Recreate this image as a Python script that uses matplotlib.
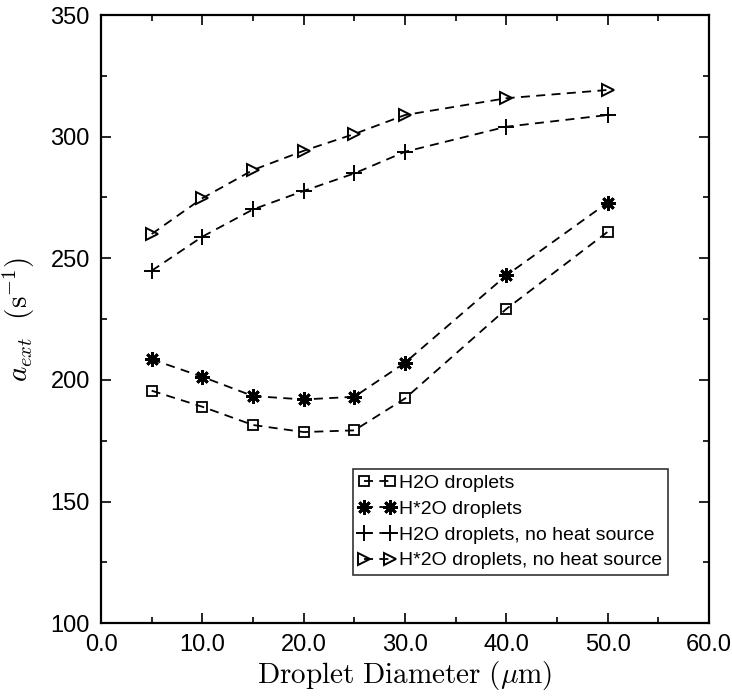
import matplotlib
matplotlib.use("Agg")
import matplotlib.pyplot as plt
from matplotlib.ticker import MultipleLocator, FormatStrFormatter

plt.rcParams['mathtext.fontset'] = 'cm'
plt.rcParams['font.family'] = ['Liberation Sans', 'DejaVu Sans']

diameter = [5, 10, 15, 20, 25, 30, 40, 50]
h2o = [195.6, 189.0, 181.5, 178.6, 179.3, 192.4, 229.2, 260.9]
hstar2o = [208.5, 201.3, 193.4, 192.0, 193.1, 207.1, 243.0, 272.9]
h2o_noheat = [244.9, 258.9, 270.1, 277.7, 284.9, 293.8, 304.1, 308.9]
hstar2o_noheat = [260.0, 274.7, 286.3, 294.2, 301.1, 308.9, 315.8, 319.2]

labels = ["H2O droplets", "H*2O droplets",
          "H2O droplets, no heat source", "H*2O droplets, no heat source"]

fig = plt.figure(figsize=(7.32, 6.98), dpi=100)
ax = fig.add_axes([0.138, 0.107, 0.8306, 0.8715])

dash = (0, (5, 3.5))
common = dict(color='black', linestyle=dash, linewidth=1.3)
ax.plot(diameter, h2o, marker='s', markersize=7, mfc='none', mec='black',
        mew=1.3, label=labels[0], **common)
ax.plot(diameter, hstar2o, marker=(8, 2, 0), markersize=10.5, mec='black',
        mew=2.0, label=labels[1], **common)
ax.plot(diameter, h2o_noheat, marker='+', markersize=12, mec='black',
        mew=1.4, label=labels[2], **common)
ax.plot(diameter, hstar2o_noheat, marker='>', markersize=9, mfc='none',
        mec='black', mew=1.4, label=labels[3], **common)

ax.set_xlim(0, 60)
ax.set_ylim(100, 350)
ax.xaxis.set_major_locator(MultipleLocator(10))
ax.xaxis.set_minor_locator(MultipleLocator(5))
ax.yaxis.set_major_locator(MultipleLocator(50))
ax.yaxis.set_minor_locator(MultipleLocator(25))
ax.xaxis.set_major_formatter(FormatStrFormatter('%.1f'))
ax.tick_params(which='both', direction='in', top=True, right=True,
               labelsize=17, width=1.2)
ax.tick_params(which='major', length=7, pad=8)
ax.tick_params(which='minor', length=4)
for s in ax.spines.values():
    s.set_linewidth(1.6)

ax.set_xlabel(r'$\mathrm{Droplet\ Diameter\ (}\mu\mathrm{m)}$', fontsize=21,
              labelpad=2)
ax.set_ylabel(r'$a_{ext}\ \ (\mathrm{s}^{-1})$', fontsize=21, labelpad=10)

leg = ax.legend(loc='lower right', bbox_to_anchor=(0.933, 0.079),
                borderaxespad=0, numpoints=2, handlelength=1.9,
                handletextpad=0.2, labelspacing=0.42, fontsize=14,
                frameon=True, fancybox=False, borderpad=0.3)
leg.get_frame().set_edgecolor('black')
leg.get_frame().set_linewidth(1.2)

fig.savefig('out.png', dpi=100)
